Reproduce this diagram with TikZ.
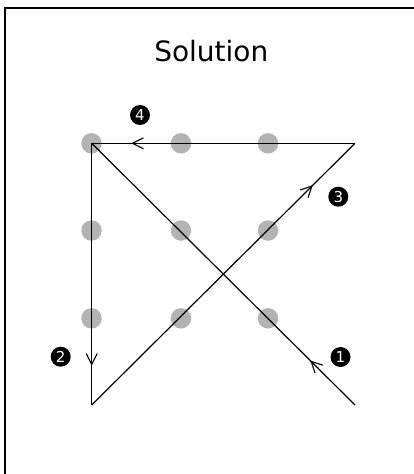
\documentclass[tikz,border=0pt]{standalone}
\usepackage{fontspec}
\setmainfont{DejaVu Sans}
\usetikzlibrary{arrows.meta,decorations.markings}
\definecolor{dotgray}{HTML}{B3B3B3}
\tikzset{
  dotnode/.style={circle,fill=dotgray,minimum size=20.5pt,inner sep=0pt},
  numlabel/.style={circle,fill=black,text=white,minimum size=20pt,inner sep=0pt,font=\fontsize{15}{15}\selectfont},
  pathline/.style={line width=1.2pt,black},
  arrowat/.style={postaction={decorate,decoration={markings,
      mark=at position #1 with {\arrow{Straight Barb[length=11pt,width=11pt,line width=1.1pt]}}}}},
  framing/.style={line width=1.5pt,black}
}
\begin{document}
\begin{tikzpicture}[x=1pt,y=-1pt]
\useasboundingbox (0,0) rectangle (414,474);
\draw[framing] (5,476) -- (5,8) -- (416,8);
\node[font=\fontsize{28}{28}\selectfont,anchor=base] (title) at (211.3,61.7) {Solution};
% dots
\foreach \i/\x in {1/91.5,2/181,3/268}{
  \foreach \j/\y in {1/143.3,2/230.5,3/318.3}{
    \node[dotnode] (d\i\j) at (\x,\y) {};
  }
}
% corners
\coordinate (A) at (355,405);
\coordinate (B) at (91.7,143.3);
\coordinate (C) at (91.7,405);
\coordinate (D) at (355,143.3);
\draw[pathline,arrowat=0.17] (A) -- (B);
\draw[pathline,arrowat=0.85] (B) -- (C);
\draw[pathline,arrowat=0.84] (C) -- (D);
\draw[pathline,arrowat=0.85] (D) -- (B);
% labels
\node[numlabel] (n1) at (340.5,357) {1};
\node[numlabel] (n2) at (60.7,356.7) {2};
\node[numlabel] (n3) at (338.3,196.7) {3};
\node[numlabel] (n4) at (140,115) {4};
\end{tikzpicture}
\end{document}
